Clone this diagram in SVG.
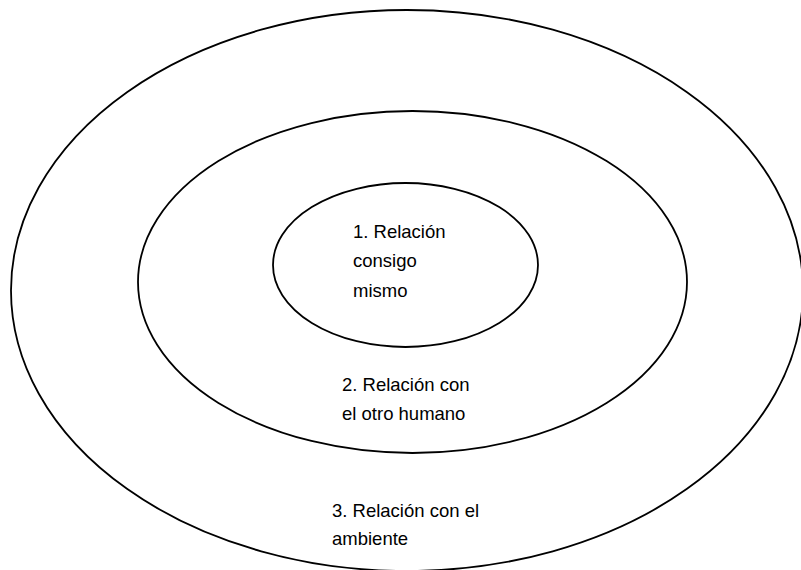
<svg xmlns="http://www.w3.org/2000/svg" width="801" height="570" viewBox="0 0 801 570">
<style>
.ring{fill:none;stroke:#000;stroke-width:1.8}
.lbl{font-family:"Liberation Sans",Arial,sans-serif;font-size:18.5px;fill:#000}
</style>
<rect width="801" height="570" fill="#fff"/>
<g id="outer">
<ellipse class="ring" cx="407" cy="290.5" rx="396" ry="280.5"/>
<text class="lbl" x="332" y="517">3. Relación con el</text>
<text class="lbl" x="332" y="545">ambiente</text>
</g>
<g id="middle">
<ellipse class="ring" cx="412.5" cy="282" rx="274.5" ry="171"/>
<text class="lbl" x="342" y="391">2. Relación con</text>
<text class="lbl" x="342" y="420">el otro humano</text>
</g>
<g id="inner">
<ellipse class="ring" cx="405.5" cy="265" rx="132.5" ry="82"/>
<text class="lbl" x="353" y="238">1. Relación</text>
<text class="lbl" x="353" y="267">consigo</text>
<text class="lbl" x="353" y="297">mismo</text>
</g>
<g id="connectors"></g>
</svg>
